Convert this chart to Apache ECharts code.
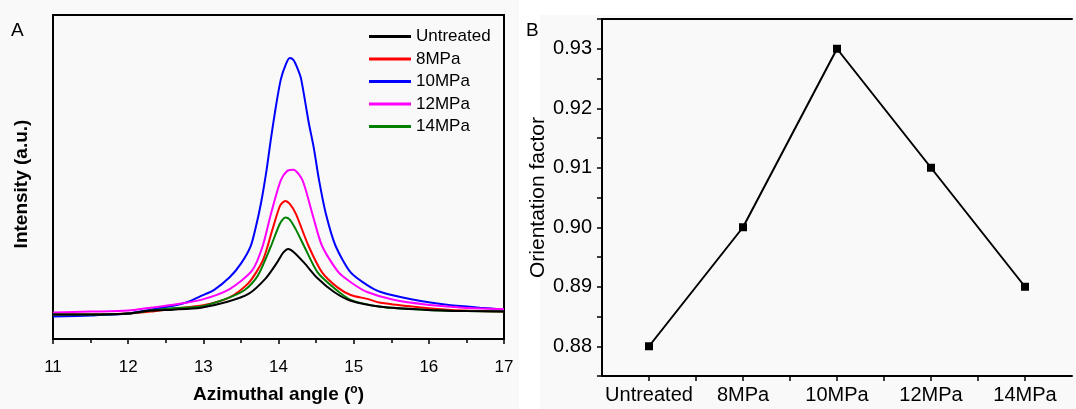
<!DOCTYPE html>
<html>
<head>
<meta charset="utf-8">
<script src="https://cdn.jsdelivr.net/npm/echarts@6/dist/echarts.min.js"></script>
<style>
  html, body { margin: 0; padding: 0; background: #fff; }
  #chart { width: 1076px; height: 409px; }
</style>
</head>
<body>
<div id="chart"></div>
<script>
// panel A: azimuthal intensity profiles, [angle, intensity a.u.]
const untreatedCurve = [
  [11.0, 25], [11.5, 25], [12.0, 26], [12.3, 29], [12.6, 30], [12.97, 32], [13.32, 38],
  [13.6, 46], [13.83, 62], [13.98, 78], [14.06, 88], [14.13, 92], [14.2, 89], [14.34, 78],
  [14.52, 62], [14.74, 48], [14.96, 39], [15.36, 33], [15.93, 30], [16.5, 28.5], [17.0, 28]
]
const mpa8Curve = [
  [11.0, 25], [11.5, 25], [12.0, 26], [12.3, 28], [12.6, 31], [13.0, 34.5], [13.35, 42.5],
  [13.6, 57], [13.79, 80], [13.92, 112], [14.02, 136], [14.09, 141], [14.15, 138], [14.23, 128],
  [14.4, 95], [14.58, 68], [14.78, 53], [14.96, 45], [15.18, 41], [15.36, 37], [15.93, 32],
  [16.46, 29], [17.0, 28]
]
const mpa10Curve = [
  [11.0, 23], [11.5, 24], [12.0, 26], [12.3, 30], [12.6, 34], [12.8, 38], [12.97, 44],
  [13.14, 50], [13.35, 63], [13.5, 77], [13.63, 95], [13.7, 115], [13.77, 140], [13.84, 172],
  [13.9, 205], [13.96, 235], [14.03, 265], [14.1, 281], [14.15, 287], [14.2, 285], [14.25, 277],
  [14.3, 266], [14.4, 222], [14.47, 195], [14.54, 162], [14.63, 128], [14.76, 95], [14.96, 68],
  [15.18, 55], [15.36, 48], [15.8, 40], [16.24, 35], [16.68, 32], [17.0, 30]
]
const mpa12Curve = [
  [11.0, 27], [11.5, 28], [12.0, 29], [12.3, 32], [12.6, 35], [12.97, 40], [13.35, 51],
  [13.65, 70], [13.79, 95], [13.9, 128], [14.03, 162], [14.12, 172], [14.2, 173], [14.32, 162],
  [14.45, 128], [14.58, 95], [14.8, 68], [14.98, 57], [15.18, 48], [15.53, 40], [15.98, 35],
  [16.46, 32], [17.0, 30.5]
]
const mpa14Curve = [
  [11.0, 25], [11.5, 25], [12.0, 26], [12.3, 29], [12.6, 31.5], [12.95, 33], [13.3, 41],
  [13.55, 50], [13.72, 64], [13.9, 95], [14.02, 118], [14.09, 124], [14.15, 122], [14.23, 112],
  [14.34, 95], [14.52, 68], [14.74, 52], [14.96, 40], [15.36, 33], [15.93, 30], [16.5, 28.5],
  [17.0, 28]
]

const seriesNamesA = ['Untreated', '8MPa', '10MPa', '12MPa', '14MPa']
const seriesColorsA = ['#000000', '#ff0000', '#0000ff', '#ff00ff', '#008000']
const curvesA = [untreatedCurve, mpa8Curve, mpa10Curve, mpa12Curve, mpa14Curve]

// panel B: orientation factor per pressure
const categoriesB = ['Untreated', '8MPa', '10MPa', '12MPa', '14MPa']
const orientationB = [0.88, 0.90, 0.93, 0.91, 0.89]

const font = 'Liberation Sans, Arial, sans-serif'
const chart = echarts.init(document.getElementById('chart'))

const option = {
  animation: false,
  backgroundColor: '#ffffff',
  graphic: [
    { type: 'rect', z: -10, silent: true, shape: { x: 0, y: 0, width: 519, height: 409 }, style: { fill: '#f9f9f9' } },
    { type: 'rect', z: -10, silent: true, shape: { x: 540, y: 15, width: 536, height: 394 }, style: { fill: '#f9f9f9' } }
  ],
  title: [
    { text: 'A', left: 11, top: 21, padding: 0, textStyle: { fontFamily: font, fontSize: 19, fontWeight: 'normal', color: '#000' } },
    { text: 'B', left: 526, top: 21, padding: 0, textStyle: { fontFamily: font, fontSize: 19, fontWeight: 'normal', color: '#000' } }
  ],
  legend: {
    orient: 'vertical',
    left: 369,
    top: 28,
    padding: 0,
    icon: 'rect',
    itemWidth: 42,
    itemHeight: 3,
    itemGap: 5.5,
    data: seriesNamesA,
    textStyle: { fontFamily: font, fontSize: 17, lineHeight: 14, color: '#000', padding: [0, 0, 0, 0] }
  },
  grid: [
    { left: 53, top: 15, width: 451, height: 330, show: true, borderColor: '#000', borderWidth: 2, containLabel: false },
    { left: 602, top: 19, width: 470, height: 357, containLabel: false }
  ],
  xAxis: [
    {
      gridIndex: 0,
      type: 'value',
      min: 11,
      max: 17,
      interval: 1,
      axisLine: { onZero: false, lineStyle: { color: '#000', width: 2 } },
      axisTick: { length: 5, lineStyle: { color: '#000', width: 1.5 } },
      minorTick: { show: true, splitNumber: 2, length: 4, lineStyle: { color: '#000', width: 1.5 } },
      splitLine: { show: false },
      axisLabel: { fontFamily: font, fontSize: 17, color: '#000', margin: 20 },
      name: 'Azimuthal angle ({sup|o})',
      nameLocation: 'middle',
      nameGap: 45,
      nameTextStyle: {
        fontFamily: font, fontSize: 19, fontWeight: 'bold', color: '#000',
        rich: { sup: { fontFamily: font, fontSize: 12, fontWeight: 'bold', color: '#000', verticalAlign: 'top', padding: [0, 0, 9, 0] } }
      }
    },
    {
      gridIndex: 1,
      type: 'value',
      min: -0.5,
      max: 4.5,
      interval: 0.5,
      axisLine: { onZero: false, lineStyle: { color: '#000', width: 2 } },
      axisTick: { length: 5, lineStyle: { color: '#000', width: 1.5 } },
      splitLine: { show: false },
      axisLabel: {
        fontFamily: font, fontSize: 20, color: '#000', margin: 9,
        showMinLabel: false, showMaxLabel: false,
        formatter: (v) => (Number.isInteger(v) ? categoriesB[v] : '')
      }
    },
    {
      gridIndex: 1,
      type: 'value',
      position: 'top',
      min: -0.5,
      max: 4.5,
      axisLine: { onZero: false, lineStyle: { color: '#000', width: 2 } },
      axisTick: { show: false },
      axisLabel: { show: false },
      splitLine: { show: false }
    }
  ],
  yAxis: [
    {
      gridIndex: 0,
      type: 'value',
      min: 0,
      max: 331,
      axisLine: { show: true, onZero: false, lineStyle: { color: '#000', width: 2 } },
      axisTick: { show: false },
      axisLabel: { show: false },
      splitLine: { show: false },
      name: 'Intensity (a.u.)',
      nameLocation: 'middle',
      nameGap: 22,
      nameTextStyle: { fontFamily: font, fontSize: 19, fontWeight: 'bold', color: '#000', padding: [0, 14, 0, 0] }
    },
    {
      gridIndex: 1,
      type: 'value',
      min: 0.875,
      max: 0.935,
      interval: 0.005,
      axisLine: { show: true, onZero: false, lineStyle: { color: '#000', width: 2 } },
      axisTick: { length: 5, lineStyle: { color: '#000', width: 1.5 } },
      splitLine: { show: false },
      axisLabel: {
        fontFamily: font, fontSize: 20, color: '#000', margin: 10,
        formatter: (v) => {
          const h = v * 100
          return Math.abs(h - Math.round(h)) < 1e-6 ? v.toFixed(2) : ''
        }
      },
      name: 'Orientation factor',
      nameLocation: 'middle',
      nameGap: 51,
      nameTextStyle: { fontFamily: font, fontSize: 21, color: '#000' }
    }
  ],
  series: [
    ...curvesA.map((curve, i) => ({
      name: seriesNamesA[i],
      type: 'line',
      xAxisIndex: 0,
      yAxisIndex: 0,
      data: curve,
      smooth: 0.25,
      symbol: 'none',
      color: seriesColorsA[i],
      lineStyle: { color: seriesColorsA[i], width: 2 },
      z: i === 0 ? 7 : 2 + i
    })),
    {
      name: 'Orientation factor',
      type: 'line',
      xAxisIndex: 1,
      yAxisIndex: 1,
      data: categoriesB.map((c, i) => [i, orientationB[i]]),
      symbol: 'rect',
      symbolSize: 8,
      color: '#000',
      lineStyle: { color: '#000', width: 2 },
      itemStyle: { color: '#000' }
    }
  ]
}

chart.setOption(option)
window.addEventListener('resize', () => chart.resize())
</script>
</body>
</html>
